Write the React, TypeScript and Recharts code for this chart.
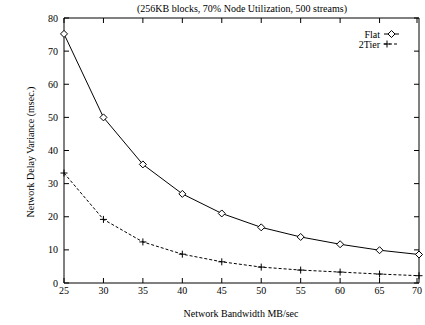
import { LineChart, Line, XAxis, YAxis, Legend, Label } from "recharts";

const bandwidth = [25, 30, 35, 40, 45, 50, 55, 60, 65, 70];
const flatVariance = [75.2, 50.0, 35.8, 26.9, 21.0, 16.8, 13.9, 11.7, 9.9, 8.6];
const twoTierVariance = [33.2, 19.2, 12.4, 8.7, 6.4, 4.8, 3.9, 3.3, 2.7, 2.2];
const xTicks = [25, 30, 35, 40, 45, 50, 55, 60, 65, 70];
const yTicks = [0, 10, 20, 30, 40, 50, 60, 70, 80];

const data = bandwidth.map((b, i) => ({
  bw: b,
  flat: flatVariance[i],
  tier: twoTierVariance[i],
}));

const FONT = "'Liberation Serif', 'Times New Roman', serif";
const LEFT = 64;
const RIGHT = 419;
const TOP = 18;
const BOTTOM = 283;
const TICK = 5;

const BottomTick = (p: any) => (
  <g>
    <line x1={p.x} x2={p.x} y1={BOTTOM} y2={BOTTOM - TICK} stroke="#000" />
    <text x={p.x} y={p.y} dy="0.71em" textAnchor="middle" fontSize={10} fontFamily={FONT} fill="#000">
      {p.payload.value}
    </text>
  </g>
);
const TopTick = (p: any) => (
  <line x1={p.x} x2={p.x} y1={TOP} y2={TOP + TICK} stroke="#000" />
);
const LeftTick = (p: any) => (
  <g>
    <line x1={LEFT} x2={LEFT + TICK} y1={p.y} y2={p.y} stroke="#000" />
    <text x={p.x} y={p.y} dy="0.355em" textAnchor="end" fontSize={10} fontFamily={FONT} fill="#000">
      {p.payload.value}
    </text>
  </g>
);
const RightTick = (p: any) => (
  <line x1={RIGHT} x2={RIGHT - TICK} y1={p.y} y2={p.y} stroke="#000" />
);

const Diamond = (p: any) => {
  const { cx, cy } = p;
  return (
    <path
      key={"d" + p.index}
      d={`M${cx},${cy - 3.5}L${cx + 3.5},${cy}L${cx},${cy + 3.5}L${cx - 3.5},${cy}Z`}
      fill="#fff"
      stroke="#000"
      strokeWidth={1}
    />
  );
};
const Plus = (p: any) => {
  const { cx, cy } = p;
  return (
    <path
      key={"p" + p.index}
      d={`M${cx - 3.5},${cy}H${cx + 3.5}M${cx},${cy - 3.5}V${cy + 3.5}`}
      stroke="#000"
      strokeWidth={1}
      fill="none"
    />
  );
};

const LegendBox = () => (
  <svg width={90} height={24}>
    <text x={50} y={6} dy="0.355em" textAnchor="end" fontSize={10} fontFamily={FONT} fill="#000">Flat</text>
    <line x1={54} x2={69} y1={6} y2={6} stroke="#000" />
    <Diamond cx={61.5} cy={6} index={0} />
    <text x={50} y={16} dy="0.355em" textAnchor="end" fontSize={10} fontFamily={FONT} fill="#000">2Tier</text>
    <line x1={54} x2={69} y1={16} y2={16} stroke="#000" strokeDasharray="3 2" />
    <Plus cx={57} cy={16} index={0} />
  </svg>
);

export default function App() {
  return (
    <div style={{ position: "absolute", left: 0, top: 0 }}>
      {/* top/right axes are 1px thick, so margins are 1 less */}
      <LineChart width={425} height={325} data={data} margin={{ top: TOP - 1, right: 425 - RIGHT - 1, bottom: 12, left: 0 }}>
        <XAxis
          dataKey="bw"
          type="number"
          domain={[25, 70]}
          ticks={xTicks}
          height={30}
          tickSize={0}
          tickMargin={4}
          tickLine={false}
          tick={BottomTick}
          stroke="#000"
        >
          <Label
            content={() => (
              <text x={241} y={313} dy="0.355em" textAnchor="middle" fontSize={10} fontFamily={FONT} fill="#000">
                Network Bandwidth MB/sec
              </text>
            )}
          />
        </XAxis>
        <XAxis
          xAxisId="top"
          orientation="top"
          dataKey="bw"
          type="number"
          domain={[25, 70]}
          ticks={xTicks}
          height={1}
          tickSize={0}
          tickLine={false}
          tick={TopTick}
          stroke="#000"
        >
          <Label
            content={() => (
              <text x={242} y={8} dy="0.355em" textAnchor="middle" fontSize={10} fontFamily={FONT} fill="#000">
                (256KB blocks, 70% Node Utilization, 500 streams)
              </text>
            )}
          />
        </XAxis>
        <YAxis
          domain={[0, 80]}
          ticks={yTicks}
          width={LEFT}
          tickSize={0}
          tickMargin={6}
          tickLine={false}
          tick={LeftTick}
          stroke="#000"
        >
          <Label
            content={() => (
              <text x={30} y={152} dy="0.355em" textAnchor="middle" fontSize={10} fontFamily={FONT} fill="#000" transform="rotate(-90 30 152)">
                Network Delay Variance (msec.)
              </text>
            )}
          />
        </YAxis>
        <YAxis
          yAxisId="right"
          orientation="right"
          domain={[0, 80]}
          ticks={yTicks}
          width={1}
          tickSize={0}
          tickLine={false}
          tick={RightTick}
          stroke="#000"
        />
        <Legend
          layout="horizontal"
          verticalAlign="middle"
          content={() => <LegendBox />}
          wrapperStyle={{ position: "absolute", left: 330, top: 28, width: 90, height: 24 }}
        />
        <Line
          xAxisId="top"
          yAxisId="right"
          dataKey="flat"
          name="Flat"
          stroke="#000"
          strokeWidth={1}
          dot={Diamond}
          activeDot={false}
          isAnimationActive={false}
        />
        <Line
          dataKey="tier"
          name="2Tier"
          stroke="#000"
          strokeWidth={1}
          strokeDasharray="3 2"
          dot={Plus}
          activeDot={false}
          isAnimationActive={false}
        />
      </LineChart>
    </div>
  );
}
